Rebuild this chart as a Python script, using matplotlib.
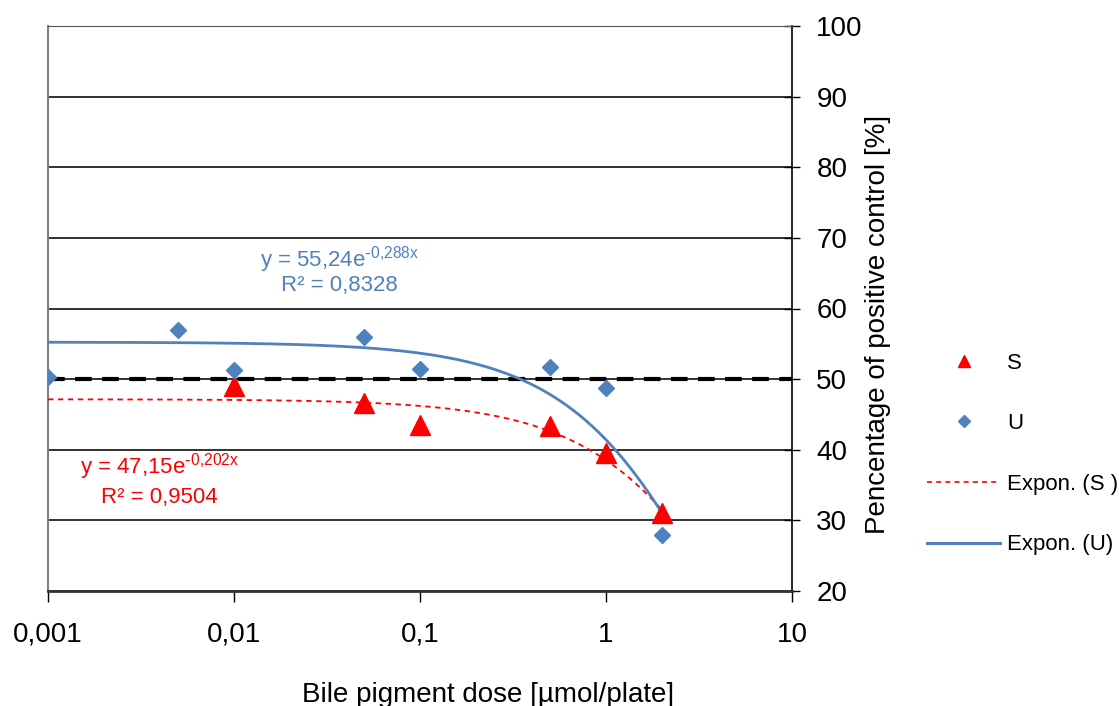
import numpy as np
import matplotlib
matplotlib.use("Agg")
import matplotlib.pyplot as plt
from matplotlib.lines import Line2D

plt.rcParams['font.family'] = ['Liberation Sans', 'DejaVu Sans']
plt.rcParams['mathtext.default'] = 'regular'

# dose [umol/plate] and response [% of positive control]
dose_u = [0.001, 0.005, 0.01, 0.05, 0.1, 0.5, 1, 2]
resp_u = [50.3, 57.0, 51.3, 56.0, 51.5, 51.7, 48.7, 28.0]

dose_s = [0.01, 0.05, 0.1, 0.5, 1, 2]
resp_s = [49.0, 46.6, 43.5, 43.3, 39.5, 31.0]

# exponential trendlines y = a * exp(b x)
fit_u = (55.24, -0.288)
fit_s = (47.15, -0.202)
fit_range = (0.001, 2)

x_ticks = [0.001, 0.01, 0.1, 1, 10]
x_ticklabels = ['0,001', '0,01', '0,1', '1', '10']
y_ticks = [20, 30, 40, 50, 60, 70, 80, 90, 100]

blue = '#4F81BD'
red = '#FF0000'

fig = plt.figure(figsize=(11.19, 7.06), dpi=100)
ax = fig.add_axes([48/1119, 1-591/706, (792-48)/1119, (591-26)/706])

ax.set_xscale('log')
ax.set_xlim(0.001, 10)
ax.set_ylim(20, 100)

for yv in y_ticks:
    ax.axhline(yv, color='#222222', lw=1.3, zorder=1)

# reference line at 50 %
ax.axhline(50, color='black', lw=3, ls=(0, (4, 2.5)), zorder=2)

xf = np.logspace(np.log10(fit_range[0]), np.log10(fit_range[1]), 300)
ax.plot(xf, fit_s[0]*np.exp(fit_s[1]*xf), color=red, lw=1.3, ls=(0, (3, 2.5)), zorder=3)
ax.plot(xf, fit_u[0]*np.exp(fit_u[1]*xf), color=blue, lw=2, zorder=3)

ax.plot(dose_s, resp_s, ls='none', marker='^', ms=15, color=red, mec=red, zorder=4)
ax.plot(dose_u, resp_u, ls='none', marker='D', ms=8.5, color=blue, mec=blue, zorder=5)

# trendline equations
ax.text(0.037, 66.9, 'y = 55,24e$^{\\text{-}0{,}288x}$', color=blue,
        fontsize=16, ha='center', va='center')
ax.text(0.037, 63.2, 'R² = 0,8328', color=blue, fontsize=16, ha='center', va='center')
ax.text(0.00395, 37.6, 'y = 47,15e$^{\\text{-}0{,}202x}$', color=red,
        fontsize=16, ha='center', va='center')
ax.text(0.00395, 33.3, 'R² = 0,9504', color=red, fontsize=16, ha='center', va='center')

ax.set_xticks(x_ticks)
ax.set_xticklabels(x_ticklabels)
ax.xaxis.set_minor_locator(matplotlib.ticker.NullLocator())
ax.set_yticks(y_ticks)
ax.yaxis.tick_right()
ax.tick_params(axis='x', direction='out', length=8, width=1, pad=14, labelsize=20)
ax.tick_params(axis='y', direction='inout', length=11, width=1, pad=12, labelsize=20,
               left=False, right=True)

ax.spines['left'].set_color('#808080')
ax.spines['left'].set_linewidth(1.5)
ax.spines['top'].set_color('#555555')
ax.spines['right'].set_linewidth(1.2)
ax.spines['bottom'].set_linewidth(2)
ax.spines['bottom'].set_color('#333333')

fig.text(878/1119, 1-324/706, 'Pencentage of positive control [%]', rotation=90,
         fontsize=20, ha='center', va='center')
fig.text(488/1119, 1-702/706, 'Bile pigment dose [µmol/plate]', fontsize=20,
         ha='center', va='baseline')

handles = [
    Line2D([], [], ls='none', marker='^', ms=9, color=red),
    Line2D([], [], ls='none', marker='D', ms=6, color=blue),
    Line2D([], [], color=red, lw=1.2, ls=(0, (3, 2.5))),
    Line2D([], [], color=blue, lw=2.2),
]
labels = ['S', 'U', 'Expon. (S )', 'Expon. (U)']
fig.legend(handles, labels, loc='center left', bbox_to_anchor=(927/1119, 1-454/706),
           frameon=False, fontsize=16, handlelength=3.3, handletextpad=0.3,
           labelspacing=1.78, borderpad=0, borderaxespad=0)

fig.savefig('out.png', dpi=100)
